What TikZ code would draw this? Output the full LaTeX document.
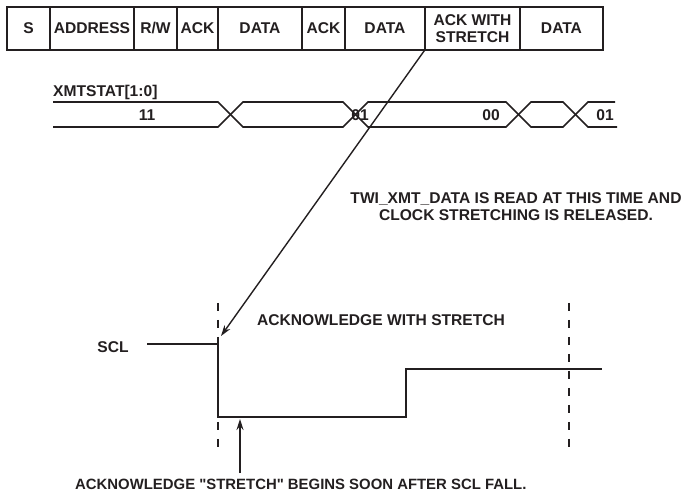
\documentclass[tikz,border=0pt]{standalone}
\usepackage{fontspec}
\newfontfamily\hv{Liberation Sans}
\usetikzlibrary{arrows.meta}
\definecolor{ink}{HTML}{231F20}
\tikzset{
  lbl/.style={font=\hv\fontsize{15.6}{17}\selectfont\bfseries, text=ink, inner sep=0pt},
  field/.style={draw=ink, line width=1.5pt, minimum height=43pt, inner sep=0pt, font=\hv\fontsize{15.6}{16.5}\selectfont\bfseries, text=ink, align=center},
  sig/.style={draw=ink, line width=1.6pt},
  guide/.style={draw=ink, line width=1.5pt, dash pattern=on 8pt off 9pt},
  pointer/.style={draw=ink, line width=1.4pt, -{Stealth[length=11pt,width=7pt]}}
}
\begin{document}
\begin{tikzpicture}[x=1pt,y=-1pt]
\useasboundingbox (0,0) rectangle (686,494);
% frame fields
\node[field, minimum width=43pt] (f1) at (28.5,28.5) {S};
\node[field, minimum width=84pt] (f2) at (92,28.5) {ADDRESS};
\node[field, minimum width=43pt] (f3) at (155.5,28.5) {R/W};
\node[field, minimum width=41pt] (f4) at (197.5,28.5) {ACK};
\node[field, minimum width=84pt] (f5) at (260,28.5) {DATA};
\node[field, minimum width=43pt] (f6) at (323.5,28.5) {ACK};
\node[field, minimum width=80pt] (f7) at (385,28.5) {DATA};
\node[field, minimum width=95pt] (f8) at (472.5,28.5) {ACK WITH\\STRETCH};
\node[field, minimum width=83pt] (f9) at (561.5,28.5) {DATA};
% bus
\node[lbl, anchor=west] (xmt) at (53,92) {XMTSTAT[1:0]};
\draw[sig] (53,102) -- (218,102) -- (243,127) -- (343,127) -- (368,102) -- (506,102) -- (531,127) -- (563,127) -- (588,102) -- (615,102);
\draw[sig] (53,127) -- (218,127) -- (243,102) -- (343,102) -- (368,127) -- (506,127) -- (531,102) -- (563,102) -- (588,127) -- (617,127);
\node[lbl] (v11) at (147,115) {11};
\node[lbl] (v01a) at (360,115) {01};
\node[lbl] (v00) at (491,115) {00};
\node[lbl] (v01b) at (605,115) {01};
% note
\node[lbl, align=center] (note) at (516,207) {TWI\_XMT\_DATA IS READ AT THIS TIME AND\\CLOCK STRETCHING IS RELEASED.};
% SCL
\node[lbl] (scl) at (113,347) {SCL};
\coordinate (fall) at (218,344);
\draw[sig] (147,344) -- (fall) -- (218,417) -- (406,417) -- (406,369) -- (602,369);
\draw[guide] (218,303) -- (218,455);
\draw[guide] (569,303) -- (569,455);
\node[lbl] (ackws) at (381,320) {ACKNOWLEDGE WITH STRETCH};
% pointers
\coordinate (tip) at (221,336);
\draw[pointer] (f8.south west) -- (tip);
\node[lbl, anchor=west, font=\hv\fontsize{14.9}{16}\selectfont\bfseries] (bottom) at (75,484) {ACKNOWLEDGE "STRETCH" BEGINS SOON AFTER SCL FALL.};
\coordinate (uptip) at (240,419);
\draw[pointer] (240,473) -- (uptip);
\end{tikzpicture}
\end{document}
